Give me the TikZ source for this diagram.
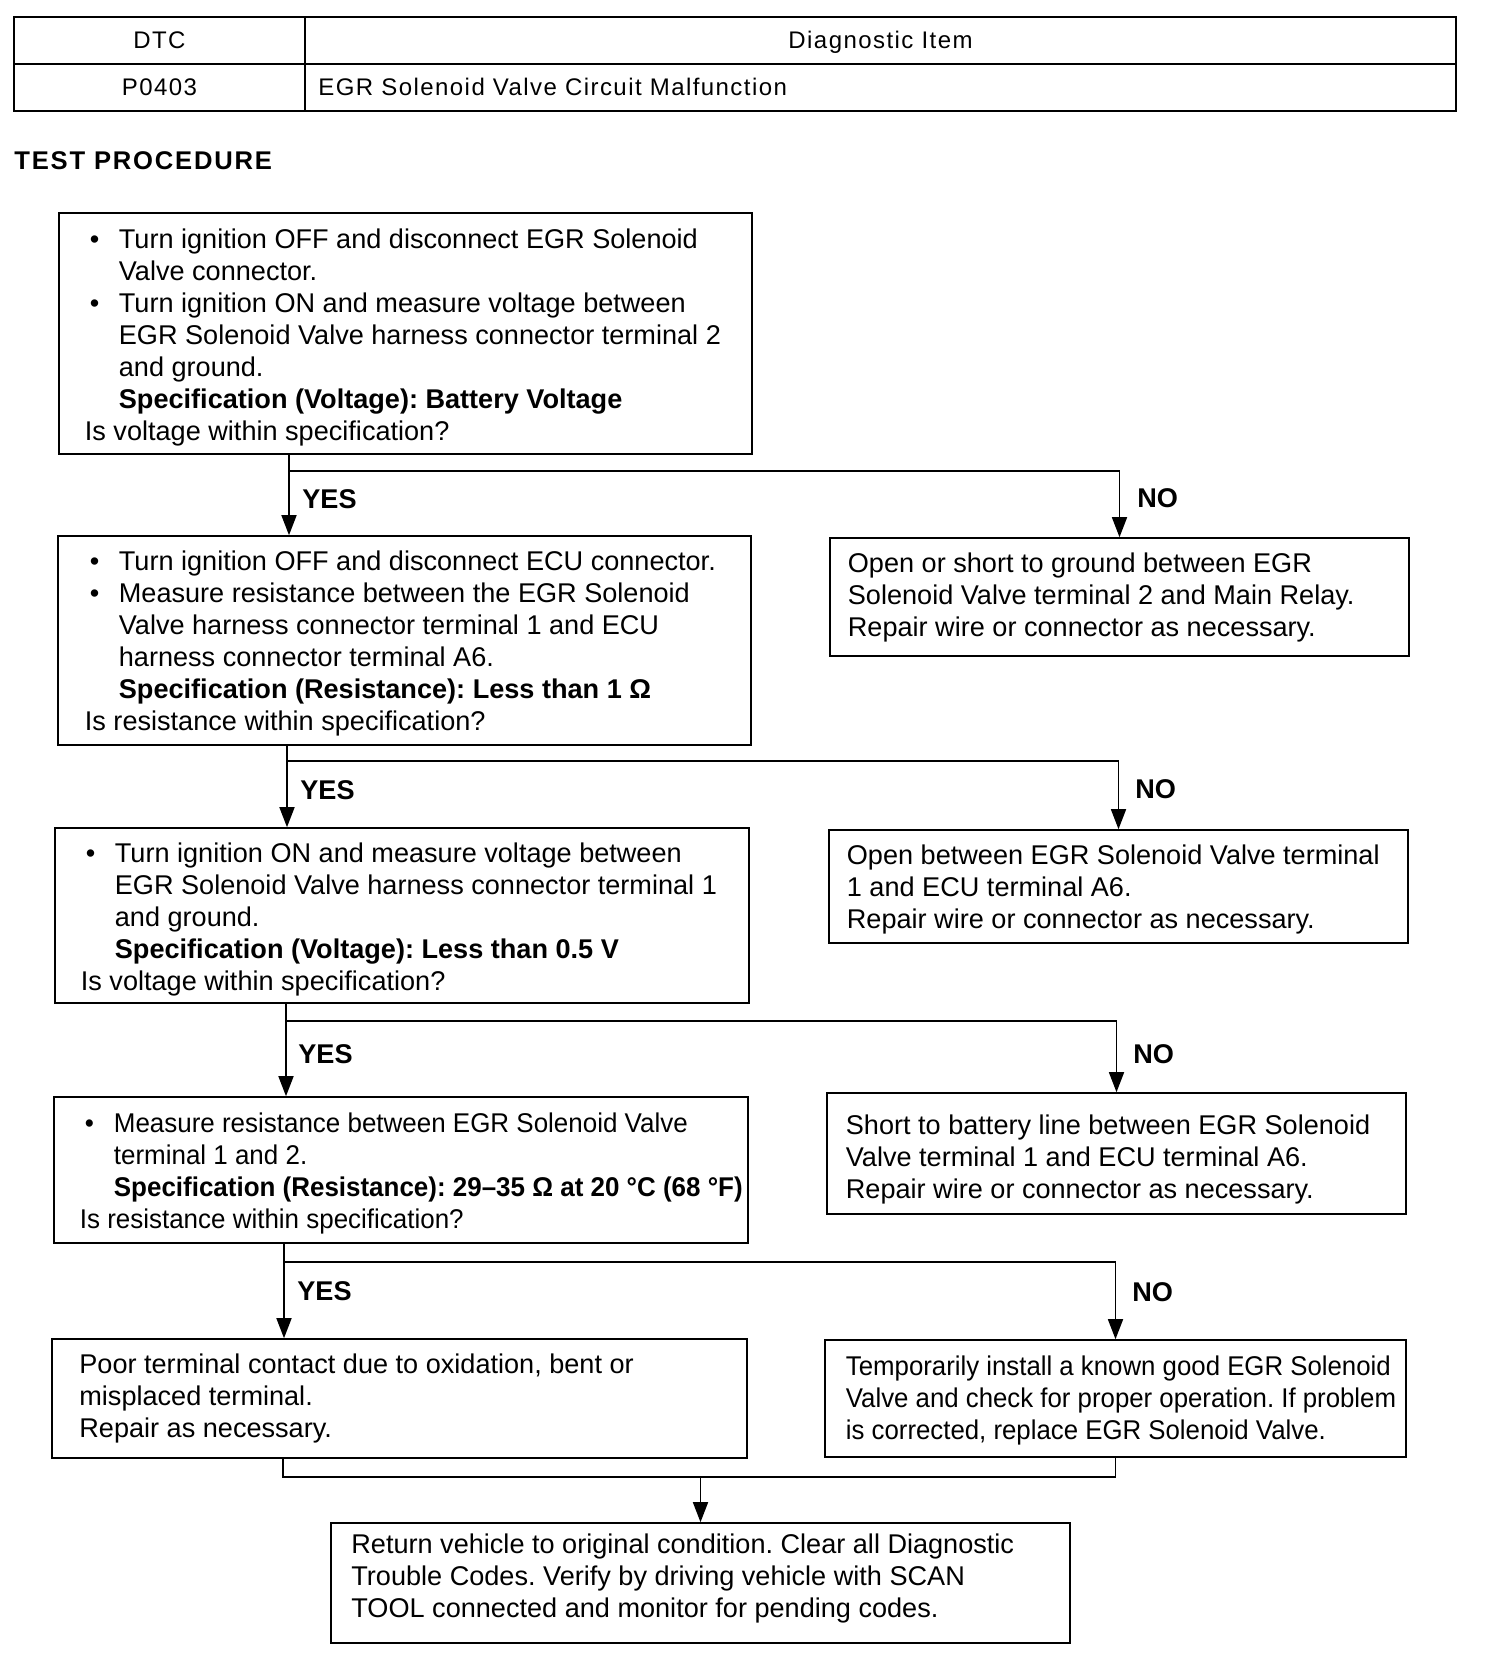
\documentclass[tikz,border=0pt]{standalone}
\usepackage{fontspec}
\setmainfont{Liberation Sans}
\newfontfamily\tabfont[LetterSpace=6]{Liberation Sans}
\newfontfamily\headfont[LetterSpace=7]{Liberation Sans}
\newfontfamily\condfont[FakeStretch=0.958]{Liberation Sans}
\newfontfamily\condfontb[FakeStretch=0.952]{Liberation Sans}
\usetikzlibrary{arrows.meta}
\frenchspacing
\newcommand{\bulit}{\hspace*{2.5pt}\makebox[14.5pt][l]{\textbullet}}
\newcommand{\indt}{\hspace*{17pt}}
\newcommand{\fst}{\rule{0pt}{11pt}}
\tikzset{
  box/.style={draw, line width=0.8pt, inner sep=0pt},
  body/.style={anchor=north west, inner sep=0pt, align=left, font=\fontsize{13.55}{16}\selectfont},
  lab/.style={anchor=base west, inner sep=0pt, font=\fontsize{13.55}{16}\selectfont\bfseries},
  tab/.style={inner sep=0pt, font=\tabfont\fontsize{12}{14}\selectfont},
  arr/.style={line width=0.8pt, -{Triangle[length=10pt,width=7.5pt]}},
  con/.style={line width=0.8pt},
}
\begin{document}
\begin{tikzpicture}[x=0.5pt, y=-0.5pt]
\useasboundingbox[fill=white] (0,0) rectangle (1504,1658);

% table
\node[box, minimum width=145.5pt, minimum height=23.5pt] (c11) at (159.5,40.5) {};
\node[box, minimum width=575.5pt, minimum height=23.5pt] (c12) at (880.5,40.5) {};
\node[box, minimum width=145.5pt, minimum height=23.5pt] (c21) at (159.5,87.5) {};
\node[box, minimum width=575.5pt, minimum height=23.5pt] (c22) at (880.5,87.5) {};
\node[tab, anchor=base] (tx11) at (159.5,49) {DTC};
\node[tab, anchor=base] (tx12) at (880.5,49) {Diagnostic Item};
\node[tab, anchor=base] (tx21) at (159.5,96) {P0403};
\node[tab, anchor=base west] (tx22) at (318,96) {EGR Solenoid Valve Circuit Malfunction};

\node[anchor=base west, inner sep=0pt, font=\headfont\fontsize{12.8}{14}\selectfont\bfseries] (head) at (14,170) {TEST PROCEDURE};

% boxes
\node[box, minimum width=346.5pt, minimum height=120.5pt] (b1) at (405.5,333.5) {};
\node[box, minimum width=346.5pt, minimum height=104.5pt] (b2) at (404.5,640.5) {};
\node[box, minimum width=347pt, minimum height=87.5pt] (b3) at (402,915.5) {};
\node[box, minimum width=347pt, minimum height=73pt] (b4) at (401,1170) {};
\node[box, minimum width=347.5pt, minimum height=59.5pt] (b5) at (399.5,1398.5) {};
\node[box, minimum width=289.5pt, minimum height=59pt] (n1) at (1119.5,597) {};
\node[box, minimum width=289.5pt, minimum height=56.5pt] (n2) at (1118.5,886.5) {};
\node[box, minimum width=289.5pt, minimum height=60.5pt] (n3) at (1116.5,1153.5) {};
\node[box, minimum width=290.5pt, minimum height=58.5pt] (n4) at (1115.5,1398.5) {};
\node[box, minimum width=369.5pt, minimum height=60pt] (fin) at (700.5,1583) {};

% texts
\node[body] (t1) at (84.5,226) {\fst\bulit Turn ignition OFF and disconnect EGR Solenoid\\
\indt Valve connector.\\
\bulit Turn ignition ON and measure voltage between\\
\indt EGR Solenoid Valve harness connector terminal 2\\
\indt and ground.\\
\indt\textbf{Specification (Voltage): Battery Voltage}\\
Is voltage within specification?};

\node[body] (t2) at (84.5,548) {\fst\bulit Turn ignition OFF and disconnect ECU connector.\\
\bulit Measure resistance between the EGR Solenoid\\
\indt Valve harness connector terminal 1 and ECU\\
\indt harness connector terminal A6.\\
\indt\textbf{Specification (Resistance): Less than 1 Ω}\\
Is resistance within specification?};

\node[body] (t3) at (80.5,840) {\fst\bulit Turn ignition ON and measure voltage between\\
\indt EGR Solenoid Valve harness connector terminal 1\\
\indt and ground.\\
\indt\textbf{Specification (Voltage): Less than 0.5 V}\\
Is voltage within specification?};

\node[body, font=\condfont\fontsize{13.55}{16}\selectfont] (t4) at (79.5,1110) {\fst\bulit Measure resistance between EGR Solenoid Valve\\
\indt terminal 1 and 2.\\
\indt\textbf{Specification (Resistance): 29–35 Ω at 20 °C (68 °F)}\\
Is resistance within specification?};

\node[body] (t5) at (79,1351) {\fst Poor terminal contact due to oxidation, bent or\\
misplaced terminal.\\
Repair as necessary.};

\node[body] (tn1) at (847.5,550) {\fst Open or short to ground between EGR\\
Solenoid Valve terminal 2 and Main Relay.\\
Repair wire or connector as necessary.};

\node[body] (tn2) at (846.5,842) {\fst Open between EGR Solenoid Valve terminal\\
1 and ECU terminal A6.\\
Repair wire or connector as necessary.};

\node[body] (tn3) at (845.5,1112) {\fst Short to battery line between EGR Solenoid\\
Valve terminal 1 and ECU terminal A6.\\
Repair wire or connector as necessary.};

\node[body, font=\condfontb\fontsize{13.55}{16}\selectfont] (tn4) at (845.5,1353) {\fst Temporarily install a known good EGR Solenoid\\
Valve and check for proper operation. If problem\\
is corrected, replace EGR Solenoid Valve.};

\node[body] (tfin) at (351,1531) {\fst Return vehicle to original condition. Clear all Diagnostic\\
Trouble Codes. Verify by driving vehicle with SCAN\\
TOOL connected and monitor for pending codes.};

% connectors
\coordinate (j1) at (289,471);
\coordinate (j2) at (287,761);
\coordinate (j3) at (286,1021);
\coordinate (j4) at (284,1262);
\coordinate (m1) at (283,1477);

\draw[arr] (b1.south -| j1) -- (b2.north -| j1);
\draw[arr] (j1) -| (n1.north);
\draw[arr] (b2.south -| j2) -- (b3.north -| j2);
\draw[arr] (j2) -| (n2.north);
\draw[arr] (b3.south -| j3) -- (b4.north -| j3);
\draw[arr] (j3) -| (n3.north);
\draw[arr] (b4.south -| j4) -- (b5.north -| j4);
\draw[arr] (j4) -| (n4.north);
\draw[con] (b5.south -| m1) -- (m1) -- (m1 -| n4.south) -- (n4.south);
\draw[arr] (m1 -| fin.north) -- (fin.north);

% labels
\node[lab] (y1) at (302,508) {YES};
\node[lab] (y2) at (300,799) {YES};
\node[lab] (y3) at (298,1063) {YES};
\node[lab] (y4) at (297,1300) {YES};
\node[lab] (no1) at (1137,507) {NO};
\node[lab] (no2) at (1135,798) {NO};
\node[lab] (no3) at (1133,1063) {NO};
\node[lab] (no4) at (1132,1301) {NO};
\end{tikzpicture}
\end{document}
